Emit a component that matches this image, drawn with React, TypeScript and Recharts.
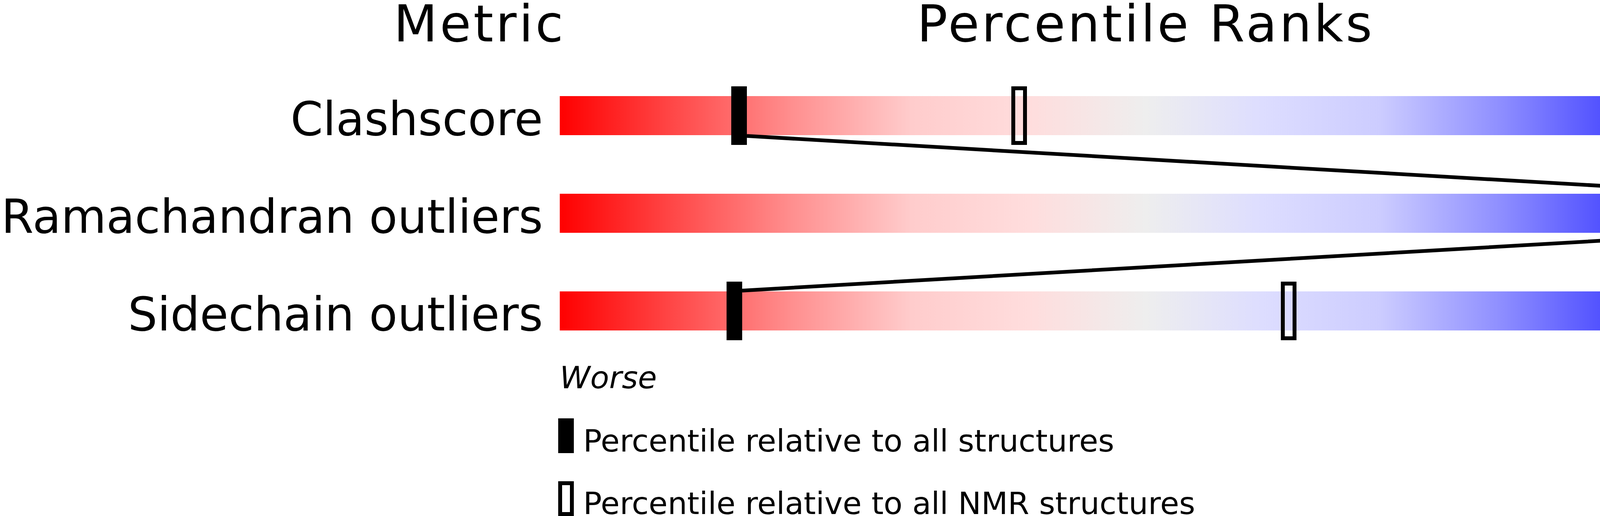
import React from "react";
import { ComposedChart, Bar, Scatter, XAxis, YAxis, LabelList } from "recharts";

const metrics = ["Clashscore", "Ramachandran outliers", "Sidechain outliers"];
const allPercentile = [15.3, 100, 14.9];
const nmrPercentile: (number | null)[] = [39.2, null, 62.2];
const metricValues = ["17", "0", "8.3%"];
const columnTitles = ["Metric", "Percentile Ranks", "Value"];
const scaleEnds = ["Worse", "Better"];
const legendLabels = [
  "Percentile relative to all structures",
  "Percentile relative to all NMR structures",
];

const data = metrics.map((metric, i) => ({
  metric,
  full: 100,
  all: allPercentile[i],
  nmr: nmrPercentile[i],
  value: metricValues[i],
}));

const FONT = "'DejaVu Sans', sans-serif";
const W = 4823;
const H = 1321;
const PLOT_L = 1433;
const PLOT_R = 4433;
const BAR_H = 100;
const MARK_W = 40;
const MARK_H = 150;

const sliderStops = [
  [0, "#ff0000"],
  [0.1, "#ff4a4a"],
  [0.2, "#ff9090"],
  [0.3, "#ffcccc"],
  [0.4, "#ffdddd"],
  [0.5, "#eeeeee"],
  [0.6, "#ddddff"],
  [0.7, "#ccccff"],
  [0.8, "#9090ff"],
  [0.9, "#4a4aff"],
  [1, "#0000ff"],
];

const MetricTick = (props: any) => {
  const { x, y, payload } = props;
  return (
    <text x={x} y={y + 50} textAnchor="end" fontSize={119} fontFamily={FONT} fill="#000">
      {payload.value}
    </text>
  );
};

const renderValue = (props: any) => {
  const { x, y, width, height, value } = props;
  return (
    <text x={x + width + 49} y={y + height / 2 + 50} fontSize={119} fontFamily={FONT} fill="#000">
      {value}
    </text>
  );
};

const solidMarker = (props: any) => {
  const { cx, cy } = props;
  if (cx == null || cy == null) return <g />;
  return <rect x={cx - MARK_W / 2} y={cy - MARK_H / 2} width={MARK_W} height={MARK_H} fill="#000" />;
};

const hollowMarker = (props: any) => {
  const { cx, cy, payload } = props;
  if (payload == null || payload.nmr == null || cx == null) return <g />;
  return (
    <rect
      x={cx - MARK_W / 2 + 5}
      y={cy - MARK_H / 2 + 5}
      width={MARK_W - 10}
      height={MARK_H - 10}
      fill="none"
      stroke="#000"
      strokeWidth={10}
    />
  );
};

// joins each marker to the next one, bar edge to bar edge
const renderLink = (props: any) => {
  const pts = props.points || [];
  let d = "";
  for (let i = 0; i + 1 < pts.length; i++) {
    const a = pts[i];
    const b = pts[i + 1];
    const dir = b.x >= a.x ? 1 : -1;
    d += `M${a.x + (dir * MARK_W) / 2},${a.y + BAR_H / 2 + 2}L${b.x - (dir * MARK_W) / 2},${b.y - BAR_H / 2 - 2}`;
  }
  return <path d={d} stroke="#000" strokeWidth={9.5} fill="none" />;
};

export default function App() {
  return (
    <div style={{ position: "absolute", left: 0, top: 0, width: W, height: H, background: "#fff" }}>
      <ComposedChart
        width={W}
        height={H}
        data={data}
        layout="vertical"
        margin={{ top: 171, right: W - PLOT_R, bottom: 400, left: 0 }}
        barCategoryGap={0}
      >
        <defs>
          <linearGradient id="slider" x1="0" y1="0" x2="1" y2="0">
            {sliderStops.map(([o, c]) => (
              <stop key={String(o)} offset={o as number} stopColor={c as string} />
            ))}
          </linearGradient>
        </defs>
        <XAxis type="number" domain={[0, 100]} hide allowDataOverflow />
        <YAxis
          type="category"
          dataKey="metric"
          width={PLOT_L}
          axisLine={false}
          tickLine={false}
          tickSize={0}
          tickMargin={43}
          tick={<MetricTick />}
        />
        <Bar dataKey="full" barSize={BAR_H} fill="url(#slider)" isAnimationActive={false}>
          <LabelList dataKey="value" content={renderValue} />
        </Bar>
        <Scatter
          dataKey="all"
          fill="#000"
          shape={solidMarker}
          line={renderLink}
          lineType="joint"
          isAnimationActive={false}
        />
        <Scatter dataKey="nmr" fill="#000" shape={hollowMarker} isAnimationActive={false} />

        <text x={1448} y={106} textAnchor="end" fontSize={130} letterSpacing={6} fontFamily={FONT}>
          {columnTitles[0]}
        </text>
        <text x={(PLOT_L + PLOT_R) / 2} y={106} textAnchor="middle" fontSize={130} letterSpacing={6} fontFamily={FONT}>
          {columnTitles[1]}
        </text>
        <text x={4432} y={106} fontSize={130} letterSpacing={6} fontFamily={FONT}>
          {columnTitles[2]}
        </text>

        <text x={PLOT_L} y={994} fontSize={79} fontStyle="italic" fontFamily={FONT}>
          {scaleEnds[0]}
        </text>
        <text x={PLOT_R} y={994} textAnchor="end" fontSize={79} fontStyle="italic" fontFamily={FONT}>
          {scaleEnds[1]}
        </text>

        <rect x={1429} y={1071} width={40} height={89} fill="#000" />
        <text x={1493} y={1156} fontSize={79} fontFamily={FONT}>
          {legendLabels[0]}
        </text>
        <rect x={1434} y={1237} width={30} height={79} fill="none" stroke="#000" strokeWidth={10} />
        <text x={1493} y={1316} fontSize={79} fontFamily={FONT}>
          {legendLabels[1]}
        </text>
      </ComposedChart>
    </div>
  );
}
